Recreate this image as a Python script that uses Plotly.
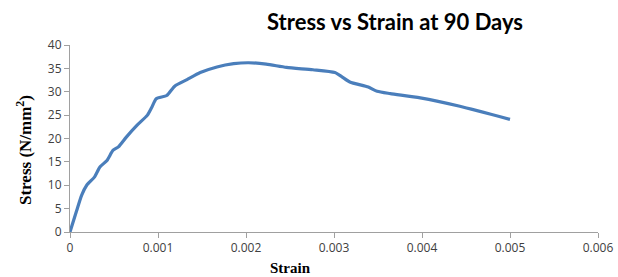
import plotly.graph_objects as go

strain = [0, 0.000076, 0.000133, 0.00019, 0.00028, 0.00034, 0.00042, 0.00049, 0.00055,
          0.00064, 0.00076, 0.00088, 0.00093, 0.00098, 0.0011, 0.00119, 0.00133, 0.00148,
          0.00167, 0.00186, 0.00203, 0.00223, 0.00246, 0.00276, 0.00301, 0.00309, 0.00318,
          0.00339, 0.00349, 0.00364, 0.00398, 0.00443, 0.005]
stress = [0, 4.6, 7.9, 10.0, 11.8, 13.9, 15.3, 17.5, 18.2,
          20.3, 22.8, 25.0, 26.7, 28.5, 29.2, 31.2, 32.6, 34.1,
          35.3, 36.0, 36.2, 35.9, 35.2, 34.7, 34.1, 33.2, 32.1,
          31.0, 30.1, 29.6, 28.7, 26.9, 24.1]

x_ticks = [0, 0.001, 0.002, 0.003, 0.004, 0.005, 0.006]
x_tick_labels = ["0", "0.001", "0.002", "0.003", "0.004", "0.005", "0.006"]
y_ticks = [0, 5, 10, 15, 20, 25, 30, 35, 40]

W, H = 618, 277
L, R, T, B = 70, 20, 45, 45
pw, ph = W - L - R, H - T - B
def px(xp): return (xp - L) / pw
def py(yp): return (H - B - yp) / ph

fig = go.Figure()
fig.add_trace(go.Scatter(x=strain, y=stress, mode="lines",
                         line=dict(color="#4a7ebb", width=3.2, shape="spline", smoothing=0.6),
                         showlegend=False))

tickfont = dict(family="Open Sans, Arial", size=12, color="#404040")
fig.update_layout(
    width=W, height=H,
    margin=dict(l=L, r=R, t=T, b=B, autoexpand=False),
    paper_bgcolor="white", plot_bgcolor="white",
    xaxis=dict(range=[0, 0.006], tickvals=x_ticks, ticktext=x_tick_labels,
               showgrid=False, zeroline=False, showline=True, linecolor="#a0a0a0",
               linewidth=1, ticks="outside", ticklen=5, tickcolor="#a0a0a0",
               tickfont=tickfont, automargin=False),
    yaxis=dict(range=[0, 40], tickvals=y_ticks, showgrid=False, zeroline=False,
               showline=True, linecolor="#a0a0a0", linewidth=1, ticks="outside",
               ticklen=5, tickcolor="#a0a0a0", tickfont=tickfont, automargin=False),
    annotations=[
        dict(text="<b>Stress vs Strain at 90 Days</b>", x=px(395), y=py(22),
             xref="paper", yref="paper", xanchor="center", yanchor="middle",
             showarrow=False, font=dict(family="Lato, Open Sans", size=22, color="black")),
        dict(text="<b>Strain</b>", x=px(290), y=py(268), xref="paper", yref="paper",
             xanchor="center", yanchor="middle", showarrow=False,
             font=dict(family="Liberation Serif, Times New Roman", size=15, color="black")),
        dict(text="<b>Stress (N/mm<sup>2</sup>)</b>", x=px(24), y=py(150),
             xref="paper", yref="paper", xanchor="center", yanchor="middle",
             showarrow=False, textangle=-90,
             font=dict(family="Liberation Serif, Times New Roman", size=17, color="black")),
    ],
)

fig.write_html("out.html", config={"displayModeBar": False},
               post_script="document.body.style.margin='0';document.body.style.overflow='hidden';")
